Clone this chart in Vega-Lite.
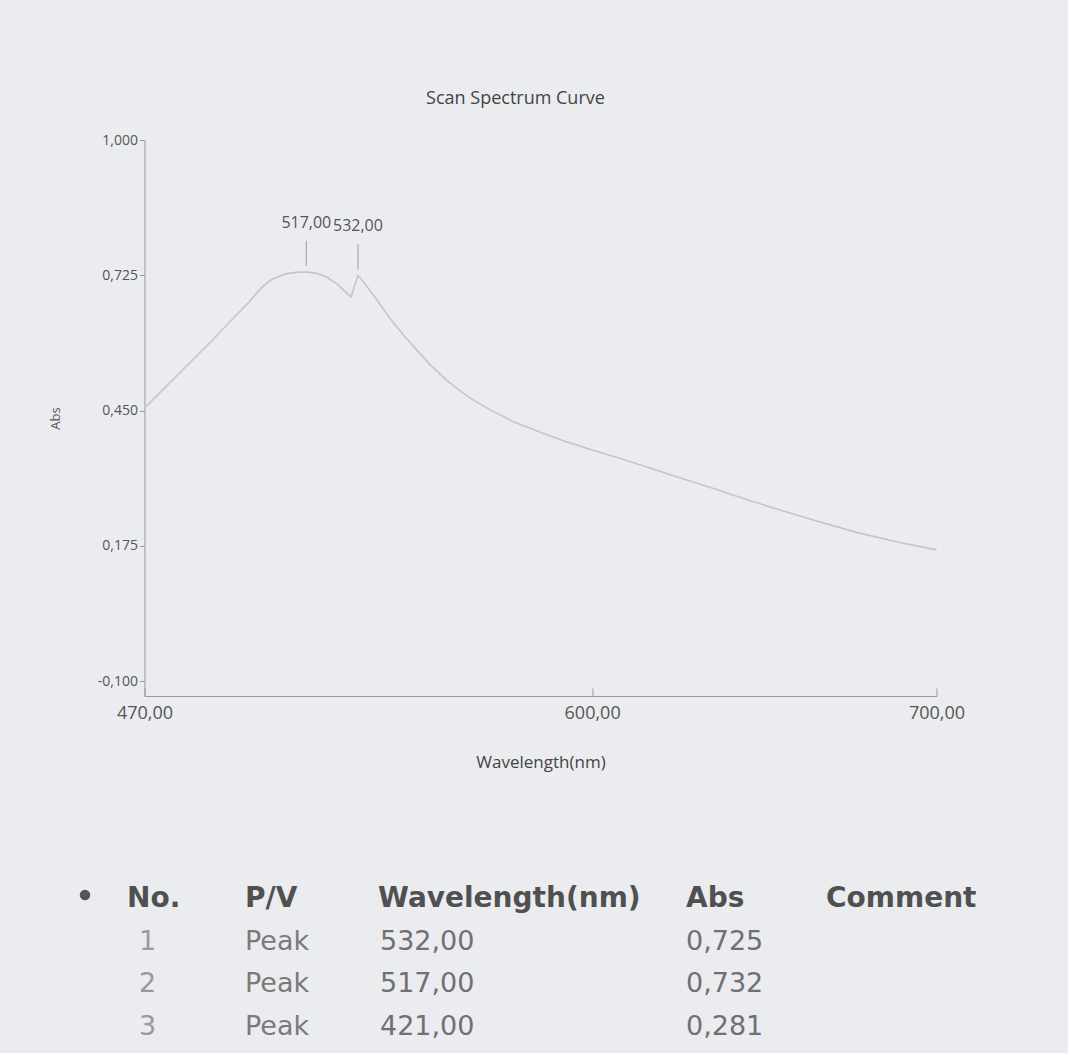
{
  "$schema": "https://vega.github.io/schema/vega-lite/v6.json",
  "background": "#ebecf0",
  "padding": {"left": 43, "top": 90, "right": 2, "bottom": 5},
  "config": {
    "locale": {"number": {"decimal": ",", "thousands": ".", "grouping": [3], "currency": ["", ""], "minus": "-"}},
    "view": {"stroke": null},
    "font": "Open Sans"
  },
  "datasets": {
    "spectrum": [
      {"wavelength": 470, "abs": 0.455},
      {"wavelength": 475, "abs": 0.490},
      {"wavelength": 480, "abs": 0.525},
      {"wavelength": 485, "abs": 0.560},
      {"wavelength": 490, "abs": 0.595},
      {"wavelength": 495, "abs": 0.632},
      {"wavelength": 500, "abs": 0.668},
      {"wavelength": 504, "abs": 0.700},
      {"wavelength": 507, "abs": 0.717},
      {"wavelength": 511, "abs": 0.728},
      {"wavelength": 514, "abs": 0.731},
      {"wavelength": 517, "abs": 0.732},
      {"wavelength": 520, "abs": 0.729},
      {"wavelength": 523, "abs": 0.721},
      {"wavelength": 526, "abs": 0.707},
      {"wavelength": 528, "abs": 0.694},
      {"wavelength": 530, "abs": 0.681},
      {"wavelength": 532, "abs": 0.725},
      {"wavelength": 534, "abs": 0.708},
      {"wavelength": 537, "abs": 0.680},
      {"wavelength": 541, "abs": 0.640},
      {"wavelength": 545, "abs": 0.605},
      {"wavelength": 549, "abs": 0.574},
      {"wavelength": 553, "abs": 0.543},
      {"wavelength": 558, "abs": 0.510},
      {"wavelength": 564, "abs": 0.478},
      {"wavelength": 570, "abs": 0.453},
      {"wavelength": 577, "abs": 0.428},
      {"wavelength": 585, "abs": 0.406},
      {"wavelength": 592, "abs": 0.388},
      {"wavelength": 600, "abs": 0.370},
      {"wavelength": 608, "abs": 0.353},
      {"wavelength": 617, "abs": 0.333},
      {"wavelength": 627, "abs": 0.310},
      {"wavelength": 636, "abs": 0.290},
      {"wavelength": 645, "abs": 0.269},
      {"wavelength": 655, "abs": 0.247},
      {"wavelength": 665, "abs": 0.226},
      {"wavelength": 677, "abs": 0.202},
      {"wavelength": 690, "abs": 0.181},
      {"wavelength": 700, "abs": 0.167}
    ],
    "peaks": [
      {"no": 1, "type": "Peak", "wavelength": 532, "abs": 0.725},
      {"no": 2, "type": "Peak", "wavelength": 517, "abs": 0.732},
      {"no": 3, "type": "Peak", "wavelength": 421, "abs": 0.281}
    ],
    "headers": [
      {"h": "No."}, {"h": "P/V"}, {"h": "Wavelength(nm)"}, {"h": "Abs"}, {"h": "Comment"}
    ]
  },
  "center": true,
  "spacing": 108,
  "vconcat": [
    {
      "width": 792,
      "height": 556,
      "title": {"text": "Scan Spectrum Curve", "fontSize": 18, "fontWeight": "normal", "color": "#444444", "offset": 25, "dx": -25},
      "layer": [
        {
          "data": {"name": "spectrum"},
          "mark": {"type": "line", "color": "#c4c5cb", "strokeWidth": 1.6},
          "encoding": {
            "x": {
              "field": "wavelength", "type": "quantitative",
              "scale": {"domain": [470, 700], "nice": false, "zero": false},
              "title": "Wavelength(nm)",
              "axis": {"values": [470, 600, 700], "format": ".2f", "grid": false, "labelFlush": false, "labelFontSize": 18, "labelColor": "#555555", "titleFontSize": 17, "titleFontWeight": "normal", "titleColor": "#444444", "titlePadding": 32, "domainColor": "#9a9a9a", "tickColor": "#9a9a9a", "tickSize": -8, "labelPadding": 16}
            },
            "y": {
              "field": "abs", "type": "quantitative",
              "scale": {"domain": [-0.13, 1.0], "nice": false, "zero": false},
              "title": "Abs",
              "axis": {"values": [-0.1, 0.175, 0.45, 0.725, 1.0], "format": ".3f", "grid": false, "labelFontSize": 14, "labelColor": "#555555", "titleFontSize": 13, "titleFontWeight": "normal", "titleColor": "#555555", "titlePadding": 35, "domainColor": "#9a9a9a", "tickColor": "#9a9a9a", "tickSize": 5, "labelPadding": 2}
            }
          }
        },
        {
          "data": {"name": "peaks"},
          "transform": [{"filter": "datum.wavelength >= 470"}],
          "mark": {"type": "rule", "color": "#a8a8ac", "strokeWidth": 1.2, "yOffset": -6, "y2Offset": -31},
          "encoding": {
            "x": {"field": "wavelength", "type": "quantitative"},
            "y": {"field": "abs", "type": "quantitative"},
            "y2": {"field": "abs"}
          }
        },
        {
          "data": {"name": "peaks"},
          "transform": [{"filter": "datum.wavelength >= 470"}],
          "mark": {"type": "text", "fontSize": 16, "color": "#555555", "baseline": "middle", "dy": -49},
          "encoding": {
            "x": {"field": "wavelength", "type": "quantitative"},
            "y": {"field": "abs", "type": "quantitative"},
            "text": {"field": "wavelength", "format": ".2f"}
          }
        }
      ]
    },
    {
      "spacing": 0,
      "hconcat": [
        {
          "width": 84, "height": 170,
          "data": {"values": [{"b": 1}]},
          "mark": {"type": "circle", "color": "#555555", "opacity": 1, "size": 110},
          "encoding": {
            "x": {"datum": 0.5, "type": "quantitative", "scale": {"domain": [0, 1]}, "axis": null},
            "y": {"datum": -0.1, "type": "quantitative", "scale": {"domain": [-0.5, 3.5], "reverse": true}, "axis": null}
          }
        },
        {
          "width": 118, "height": 170,
          "layer": [
            {
              "data": {"name": "headers"},
              "transform": [{"filter": "datum.h == 'No.'"}],
              "mark": {"type": "text", "align": "left", "baseline": "middle", "font": "DejaVu Sans", "fontWeight": "bold", "fontSize": 28, "color": "#505050"},
              "encoding": {
                "x": {"datum": 0, "type": "quantitative", "scale": {"domain": [0, 1]}, "axis": null},
                "y": {"datum": 0, "type": "quantitative", "scale": {"domain": [-0.5, 3.5], "reverse": true}, "axis": null},
                "text": {"field": "h"}
              }
            },
            {
              "data": {"name": "peaks"},
              "mark": {"type": "text", "align": "left", "baseline": "middle", "font": "DejaVu Sans", "fontSize": 27, "color": "#9a9a9a", "dx": 12},
              "encoding": {
                "x": {"datum": 0, "type": "quantitative", "scale": {"domain": [0, 1]}, "axis": null},
                "y": {"field": "no", "type": "quantitative", "scale": {"domain": [-0.5, 3.5], "reverse": true}, "axis": null},
                "text": {"field": "no"}
              }
            }
          ]
        },
        {
          "width": 133, "height": 170,
          "layer": [
            {
              "data": {"name": "headers"},
              "transform": [{"filter": "datum.h == 'P/V'"}],
              "mark": {"type": "text", "align": "left", "baseline": "middle", "font": "DejaVu Sans", "fontWeight": "bold", "fontSize": 28, "color": "#505050"},
              "encoding": {
                "x": {"datum": 0, "type": "quantitative", "scale": {"domain": [0, 1]}, "axis": null},
                "y": {"datum": 0, "type": "quantitative", "scale": {"domain": [-0.5, 3.5], "reverse": true}, "axis": null},
                "text": {"field": "h"}
              }
            },
            {
              "data": {"name": "peaks"},
              "mark": {"type": "text", "align": "left", "baseline": "middle", "font": "DejaVu Sans", "fontSize": 27, "color": "#7a7a7a"},
              "encoding": {
                "x": {"datum": 0, "type": "quantitative", "scale": {"domain": [0, 1]}, "axis": null},
                "y": {"field": "no", "type": "quantitative", "scale": {"domain": [-0.5, 3.5], "reverse": true}, "axis": null},
                "text": {"field": "type"}
              }
            }
          ]
        },
        {
          "width": 308, "height": 170,
          "layer": [
            {
              "data": {"name": "headers"},
              "transform": [{"filter": "datum.h == 'Wavelength(nm)'"}],
              "mark": {"type": "text", "align": "left", "baseline": "middle", "font": "DejaVu Sans", "fontWeight": "bold", "fontSize": 28, "color": "#505050"},
              "encoding": {
                "x": {"datum": 0, "type": "quantitative", "scale": {"domain": [0, 1]}, "axis": null},
                "y": {"datum": 0, "type": "quantitative", "scale": {"domain": [-0.5, 3.5], "reverse": true}, "axis": null},
                "text": {"field": "h"}
              }
            },
            {
              "data": {"name": "peaks"},
              "mark": {"type": "text", "align": "left", "baseline": "middle", "font": "DejaVu Sans", "fontSize": 27, "color": "#707070", "dx": 2},
              "encoding": {
                "x": {"datum": 0, "type": "quantitative", "scale": {"domain": [0, 1]}, "axis": null},
                "y": {"field": "no", "type": "quantitative", "scale": {"domain": [-0.5, 3.5], "reverse": true}, "axis": null},
                "text": {"field": "wavelength", "format": ".2f"}
              }
            }
          ]
        },
        {
          "width": 140, "height": 170,
          "layer": [
            {
              "data": {"name": "headers"},
              "transform": [{"filter": "datum.h == 'Abs'"}],
              "mark": {"type": "text", "align": "left", "baseline": "middle", "font": "DejaVu Sans", "fontWeight": "bold", "fontSize": 28, "color": "#505050"},
              "encoding": {
                "x": {"datum": 0, "type": "quantitative", "scale": {"domain": [0, 1]}, "axis": null},
                "y": {"datum": 0, "type": "quantitative", "scale": {"domain": [-0.5, 3.5], "reverse": true}, "axis": null},
                "text": {"field": "h"}
              }
            },
            {
              "data": {"name": "peaks"},
              "mark": {"type": "text", "align": "left", "baseline": "middle", "font": "DejaVu Sans", "fontSize": 27, "color": "#707070"},
              "encoding": {
                "x": {"datum": 0, "type": "quantitative", "scale": {"domain": [0, 1]}, "axis": null},
                "y": {"field": "no", "type": "quantitative", "scale": {"domain": [-0.5, 3.5], "reverse": true}, "axis": null},
                "text": {"field": "abs", "format": ".3f"}
              }
            }
          ]
        },
        {
          "width": 240, "height": 170,
          "data": {"name": "headers"},
          "transform": [{"filter": "datum.h == 'Comment'"}],
          "mark": {"type": "text", "align": "left", "baseline": "middle", "font": "DejaVu Sans", "fontWeight": "bold", "fontSize": 28, "color": "#505050"},
          "encoding": {
            "x": {"datum": 0, "type": "quantitative", "scale": {"domain": [0, 1]}, "axis": null},
            "y": {"datum": 0, "type": "quantitative", "scale": {"domain": [-0.5, 3.5], "reverse": true}, "axis": null},
            "text": {"field": "h"}
          }
        }
      ]
    }
  ]
}
